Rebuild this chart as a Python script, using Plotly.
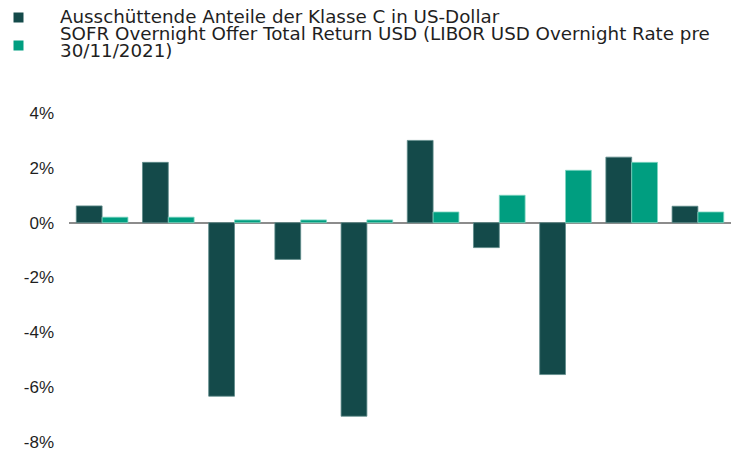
import plotly.graph_objects as go

categories = ["P1", "P2", "P3", "P4", "P5", "P6", "P7", "P8", "P9", "P10"]
fund_values = [0.61, 2.2, -6.33, -1.34, -7.06, 3.0, -0.91, -5.54, 2.39, 0.6]
sofr_values = [0.2, 0.2, 0.1, 0.1, 0.1, 0.39, 1.0, 1.91, 2.2, 0.39]
series_names = [
    "Ausschüttende Anteile der Klasse C in US-Dollar",
    "SOFR Overnight Offer Total Return USD (LIBOR USD Overnight Rate pre",
    "30/11/2021)",
]
tick_vals = [4, 2, 0, -2, -4, -6, -8]
tick_text = ["4%", "2%", "0%", "-2%", "-4%", "-6%", "-8%"]

DARK = "#144a4a"
TEAL = "#009e80"
FONT = "Liberation Sans"
LFONT = "DejaVu Sans"
TXT = "#1f1f1f"

# body margin is removed below, so figure pixels == screen pixels
OFF = 0
W, H = 736, 453
ML, MT = 69 - OFF, 113 - OFF
MR = W - (731 - OFF)
MB = H - (442 - OFF)
PW, PH = W - ML - MR, H - MT - MB


def px(x):
    return (x - OFF - ML) / PW


def py(y):
    return (H - MB - (y - OFF)) / PH


fig = go.Figure()
fig.add_trace(go.Bar(x=categories, y=fund_values, name=series_names[0],
                     marker=dict(color=DARK, line=dict(color="#5f8c8a", width=0.8))))
fig.add_trace(go.Bar(x=categories, y=sofr_values, name=series_names[1],
                     marker=dict(color=TEAL, line=dict(color="#7fd6c2", width=0.8))))

# manual legend (screen pixel positions)
legend_rows = [
    (series_names[0], 16.5),
    (series_names[1], 33.5),
    (series_names[2], 50.5),
]
for text, yc in legend_rows:
    fig.add_annotation(text=text, xref="paper", yref="paper", x=px(58), y=py(yc),
                       xanchor="left", yanchor="middle", showarrow=False,
                       font=dict(family=LFONT, size=18.3, color=TXT))
for color, yc in [(DARK, 17.5), (TEAL, 45.5)]:
    fig.add_shape(type="rect", xref="paper", yref="paper",
                  x0=px(13.5), x1=px(23.5), y0=py(yc + 5), y1=py(yc - 5),
                  fillcolor=color, line=dict(width=0))

fig.update_layout(
    width=W, height=H,
    margin=dict(l=ML, r=MR, t=MT, b=MB, autoexpand=False),
    paper_bgcolor="white", plot_bgcolor="white",
    barmode="group", bargap=0.22, bargroupgap=0,
    font=dict(family=FONT, size=17, color=TXT),
    showlegend=False,
    xaxis=dict(showticklabels=False, showgrid=False, zeroline=False, showline=False,
               ticks=""),
    yaxis=dict(range=[-8, 4], tickvals=tick_vals, ticktext=tick_text,
               showgrid=False, zeroline=True, zerolinecolor="#8c8c8c", zerolinewidth=2,
               showline=False, ticks="", ticklabelstandoff=14,
               tickfont=dict(family=FONT, size=17, color=TXT)),
)

fig.write_html("out.html", config={"displayModeBar": False},
               post_script="document.body.style.margin='0';document.body.style.overflow='hidden';")
